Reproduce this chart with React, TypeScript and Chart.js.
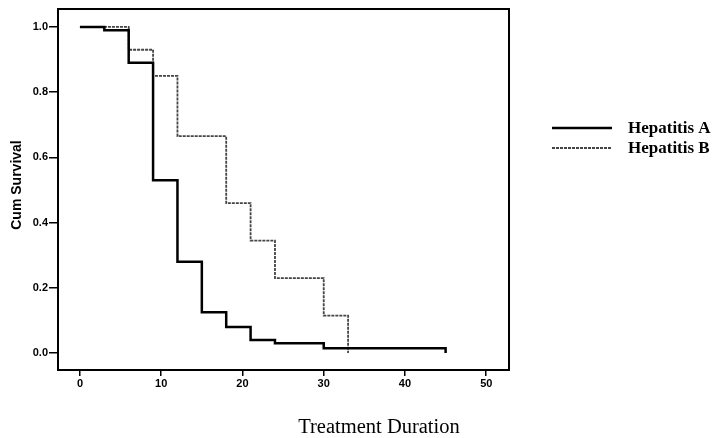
import React, { useEffect, useRef } from "react";
import { Chart, registerables } from "chart.js";

Chart.register(...registerables);

const seriesNames = ["Hepatitis A", "Hepatitis B"];
const timesA = [0, 3, 6, 9, 12, 15, 18, 21, 24, 30, 45];
const survA = [1.0, 0.99, 0.89, 0.53, 0.28, 0.125, 0.08, 0.04, 0.03, 0.0145, 0.0];
const timesB = [0, 6, 9, 12, 18, 21, 24, 30, 33];
const survB = [1.0, 0.93, 0.85, 0.665, 0.46, 0.345, 0.23, 0.115, 0.0];
const xTicks = [0, 10, 20, 30, 40, 50];
const yTicks = [0.0, 0.2, 0.4, 0.6, 0.8, 1.0];
const xTitle = "Treatment Duration";
const yTitle = "Cum Survival";

export default function App() {
  const ref = useRef<HTMLCanvasElement | null>(null);

  useEffect(() => {
    if (!ref.current) return;

    const framePlugin = {
      id: "frameAndText",
      afterDraw(chart: any) {
        const { ctx, chartArea } = chart;
        ctx.save();
        ctx.strokeStyle = "#000";
        ctx.lineWidth = 2;
        ctx.strokeRect(chartArea.left, chartArea.top, chartArea.right - chartArea.left, chartArea.bottom - chartArea.top);

        // axis titles
        ctx.fillStyle = "#000";
        ctx.font = "20.5px 'Liberation Serif', serif";
        ctx.textAlign = "center";
        ctx.textBaseline = "alphabetic";
        ctx.fillText(xTitle, 379, 433);

        ctx.save();
        ctx.translate(17, 185);
        ctx.rotate(-Math.PI / 2);
        ctx.font = "bold 14px 'Liberation Sans', Arial, sans-serif";
        ctx.textAlign = "center";
        ctx.textBaseline = "middle";
        ctx.fillText(yTitle, 0, 0);
        ctx.restore();

        // legend
        const ys = [128, 148];
        chart.data.datasets.forEach((ds: any, i: number) => {
          ctx.save();
          ctx.strokeStyle = ds.borderColor;
          ctx.lineWidth = ds.borderWidth;
          ctx.setLineDash(ds.borderDash || []);
          ctx.beginPath();
          ctx.moveTo(552, ys[i]);
          ctx.lineTo(612, ys[i]);
          ctx.stroke();
          ctx.restore();
          ctx.font = "bold 17px 'Liberation Serif', serif";
          ctx.textAlign = "left";
          ctx.textBaseline = "middle";
          ctx.fillStyle = "#000";
          ctx.fillText(ds.label, 628, ys[i] + 1);
        });
        ctx.restore();
      },
    };

    const chart = new Chart(ref.current, {
      type: "line",
      data: {
        datasets: [
          {
            label: seriesNames[0],
            data: timesA.map((t, i) => ({ x: t, y: survA[i] })),
            borderColor: "#000",
            borderWidth: 2.5,
            stepped: "before",
            pointRadius: 0,
            fill: false,
          },
          {
            label: seriesNames[1],
            data: timesB.map((t, i) => ({ x: t, y: survB[i] })),
            borderColor: "#444",
            borderWidth: 1.8,
            borderDash: [3, 1],
            stepped: "before",
            pointRadius: 0,
            fill: false,
          },
        ],
      },
      options: {
        animation: false,
        responsive: false,
        maintainAspectRatio: false,
        layout: { padding: { left: 0, top: 9, right: 203, bottom: 0 } },
        plugins: { legend: { display: false }, tooltip: { enabled: false } },
        scales: {
          x: {
            type: "linear",
            min: -2.7,
            max: 52.8,
            afterBuildTicks: (s: any) => {
              s.ticks = xTicks.map((v) => ({ value: v }));
            },
            afterFit: (s: any) => {
              s.height = 68;
            },
            ticks: {
              color: "#000",
              font: { family: "'Liberation Sans', Arial, sans-serif", size: 11, weight: "bold" },
              padding: 1,
              maxRotation: 0,
              autoSkip: false,
              callback: (v: any) => String(v),
            },
            grid: { drawOnChartArea: false, tickLength: 6, color: "#000", lineWidth: 1.5 },
            border: { display: false },
          },
          y: {
            type: "linear",
            min: -0.052,
            max: 1.055,
            afterBuildTicks: (s: any) => {
              s.ticks = yTicks.map((v) => ({ value: v }));
            },
            afterFit: (s: any) => {
              s.width = 58;
            },
            ticks: {
              color: "#000",
              font: { family: "'Liberation Sans', Arial, sans-serif", size: 11, weight: "bold" },
              padding: 1,
              autoSkip: false,
              callback: (v: any) => Number(v).toFixed(1),
            },
            grid: { drawOnChartArea: false, tickLength: 9, color: "#000", lineWidth: 1.5 },
            border: { display: false },
          },
        },
      },
      plugins: [framePlugin],
    } as any);

    return () => chart.destroy();
  }, []);

  return (
    <div style={{ position: "absolute", left: 0, top: 0, width: 712, height: 438, background: "#fff" }}>
      <canvas ref={ref} width={712} height={438} style={{ width: 712, height: 438, display: "block" }} />
    </div>
  );
}
